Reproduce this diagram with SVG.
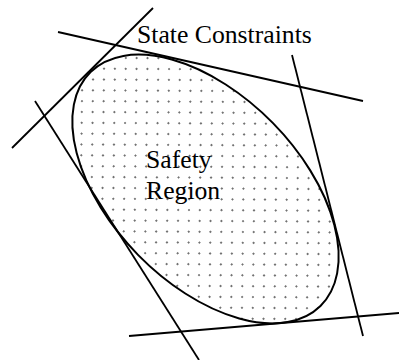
<svg xmlns="http://www.w3.org/2000/svg" width="399" height="360" viewBox="0 0 399 360">
<style>
.ln{stroke:#000;stroke-width:1.8;fill:none;stroke-linecap:butt}
.region{stroke:#000;stroke-width:2;fill:url(#dots)}
.lbl{font-family:"Liberation Serif","Times New Roman",serif;font-size:25.7px;fill:#000}
</style>
<defs>
<pattern id="dots" patternUnits="userSpaceOnUse" x="117.3" y="61.7" width="15.27" height="15.38">
<circle cx="0" cy="0" r="0.9" fill="#333"/>
<circle cx="15.27" cy="0" r="0.9" fill="#333"/>
<circle cx="0" cy="15.38" r="0.9" fill="#333"/>
<circle cx="15.27" cy="15.38" r="0.9" fill="#333"/>
<circle cx="7.635" cy="7.69" r="0.9" fill="#333"/>
</pattern>
</defs>
<rect width="399" height="360" fill="#fff"/>
<g id="safety-region">
<ellipse class="region" cx="205.5" cy="189" rx="164" ry="94.3" transform="rotate(45.5 205.5 189)"/>
<text class="lbl" x="146" y="168">Safety</text>
<text class="lbl" x="146" y="199">Region</text>
</g>
<g id="state-constraints">
<text class="lbl" x="137" y="42.5">State Constraints</text>
</g>
<g id="connectors">
<line class="ln" x1="12" y1="148" x2="153" y2="8"/>
<line class="ln" x1="58" y1="32" x2="363" y2="101"/>
<line class="ln" x1="35" y1="101" x2="199" y2="360"/>
<line class="ln" x1="292" y1="55" x2="363" y2="336"/>
<line class="ln" x1="129" y1="336" x2="399" y2="313"/>
</g>
</svg>
